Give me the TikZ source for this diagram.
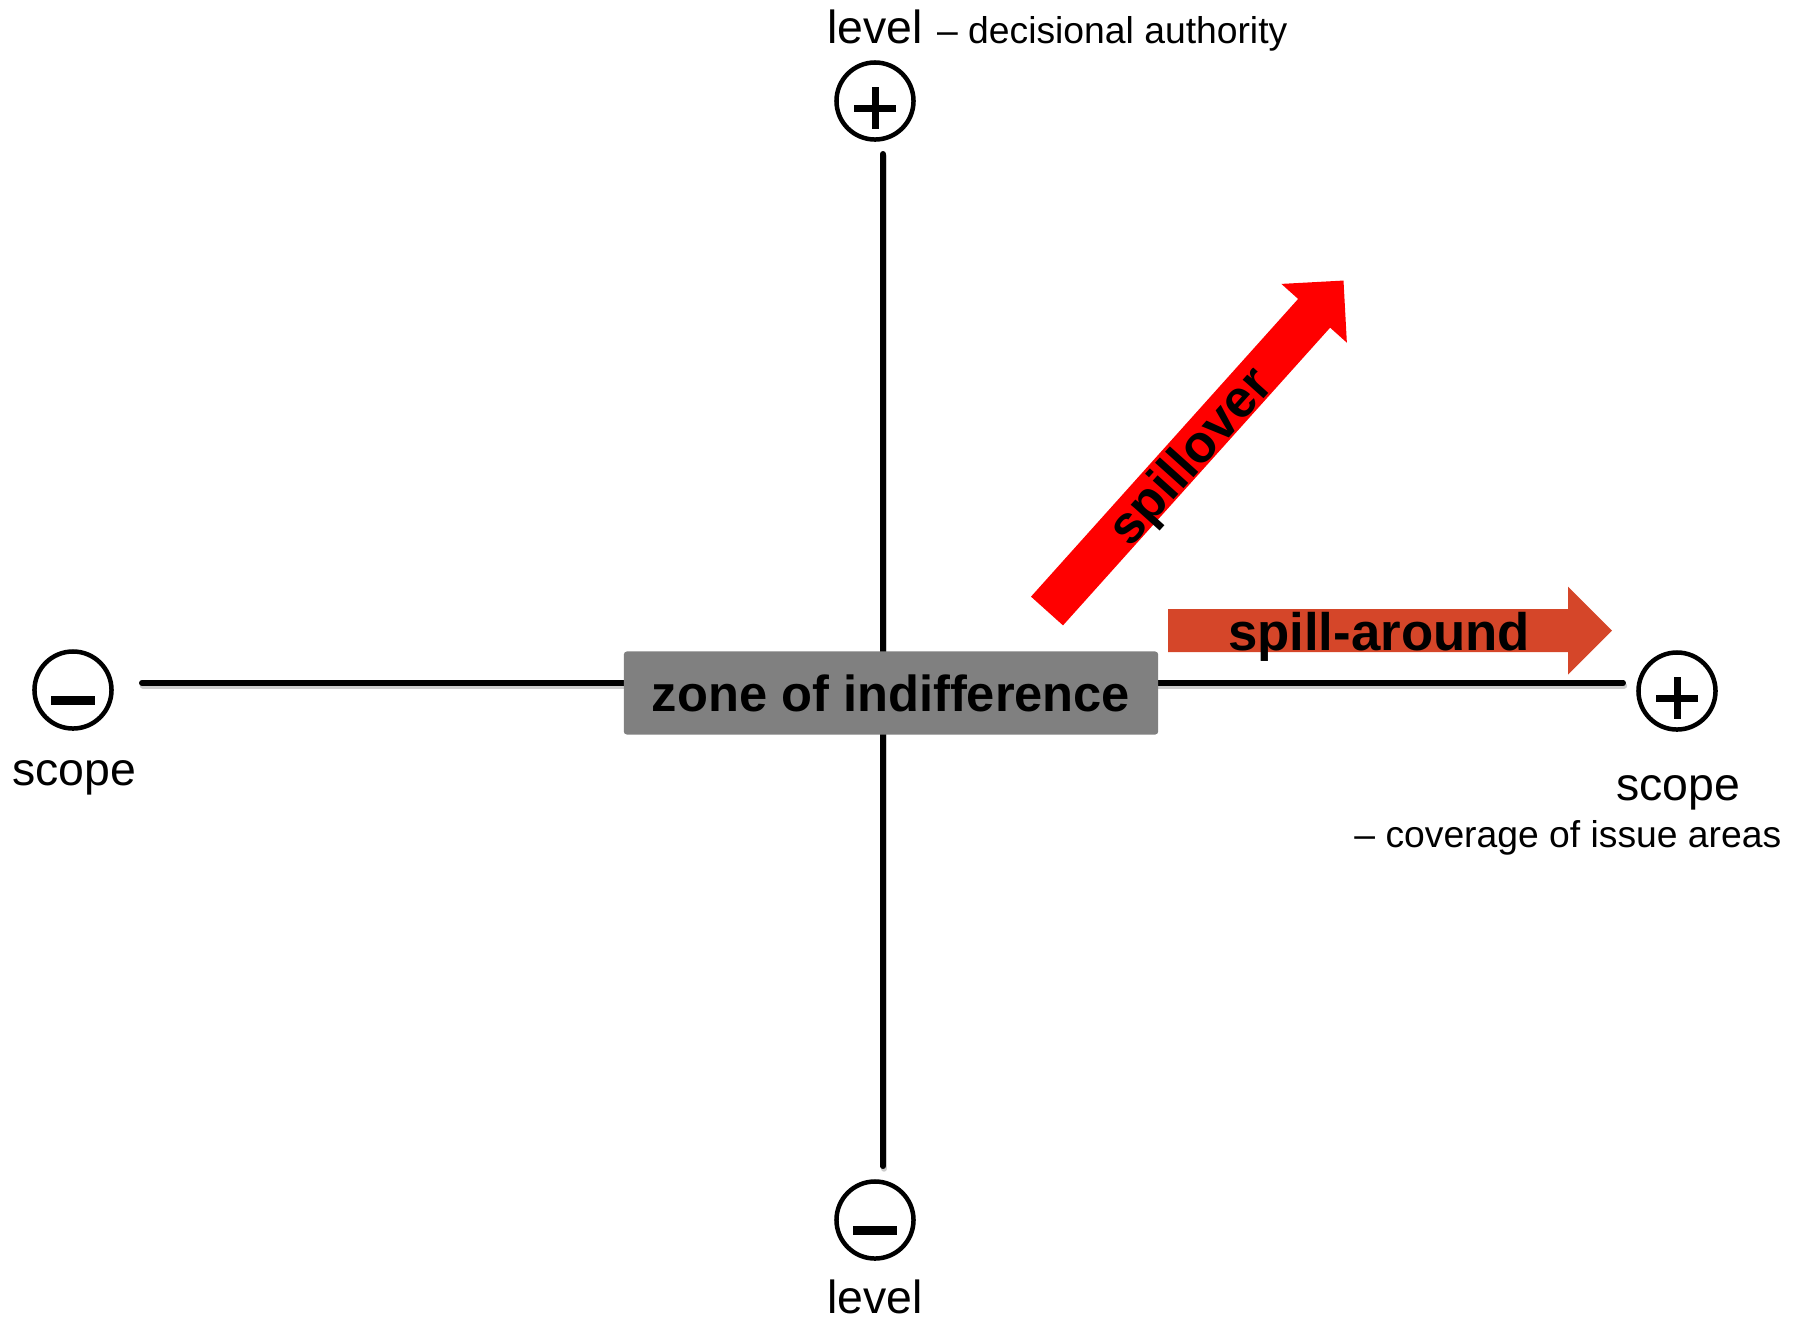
\documentclass[tikz,border=0pt]{standalone}
\usepackage{fontspec}
\setmainfont{Liberation Sans}
\usetikzlibrary{positioning}

\definecolor{spillred}{RGB}{255,0,0}
\definecolor{aroundred}{RGB}{213,70,41}
\definecolor{zonegray}{RGB}{128,128,128}

\tikzset{
  axis/.style={line width=0.055cm, line cap=round},
  axshadow/.style={line width=0.06cm, line cap=round, black!20,
    transform canvas={xshift=0.01cm, yshift=-0.025cm}},
  endmark/.style={circle, draw, line width=0.045cm, minimum size=0.77cm, inner sep=0pt},
  sgn/.style={line width=0.07cm},
  lbl/.style={inner sep=0pt, font=\fontsize{13.2}{15}\selectfont},
  note/.style={inner sep=0pt, font=\fontsize{10.6}{13}\selectfont},
  boldtxt/.style={inner sep=0pt, font=\fontsize{15}{18}\selectfont\bfseries},
  zonebox/.style={fill=zonegray, rounded corners=0.03cm, minimum width=5.34cm,
    minimum height=0.83cm, inner sep=0pt, font=\fontsize{14.4}{17}\selectfont\bfseries},
}

\begin{document}
\begin{tikzpicture}[x=0.01cm, y=-0.01cm]
    \useasboundingbox (0,0) rectangle (1802,1320);

    % end marks of the two axes
    \node[endmark] (levplus) at (875,101) {};
    \node[endmark] (levminus) at (875,1220) {};
    \node[endmark] (scpminus) at (73,690) {};
    \node[endmark] (scpplus) at (1677,691) {};

    \draw[sgn] (levplus) ++(-21,7) -- ++(42,0) ++(-21,-21) -- ++(0,42);
    \draw[sgn] (scpplus) ++(-21,7) -- ++(42,0) ++(-21,-21) -- ++(0,42);
    \draw[line width=0.09cm] (levminus) ++(-22,10) -- ++(44,0);
    \draw[line width=0.09cm] (scpminus) ++(-22,10) -- ++(44,0);

    % axes
    \draw[axshadow, shorten <=0.28cm, shorten >=0.13cm]
      ([yshift=0.07cm]scpminus.east) -- ([yshift=0.08cm]scpplus.west);
    \draw[axshadow, shorten <=0.12cm, shorten >=0.13cm]
      ([xshift=0.08cm]levplus.south) -- ([xshift=0.08cm]levminus.north);
    \draw[axis, shorten <=0.28cm, shorten >=0.13cm]
      ([yshift=0.07cm]scpminus.east) -- ([yshift=0.08cm]scpplus.west);
    \draw[axis, shorten <=0.12cm, shorten >=0.13cm]
      ([xshift=0.08cm]levplus.south) -- ([xshift=0.08cm]levminus.north);

    \node[zonebox] (zone) at (891,693) {zone of indifference};

    % spillover
    \begin{scope}[shift={(1047,611)}, rotate=48.1]
      \fill[spillred] (0,-21.5) -- (400,-21.5) -- (400,-44) -- (444,0)
        -- (400,44) -- (400,21.5) -- (0,21.5) -- cycle;
      \node[boldtxt, rotate=48.1, anchor=base] (spillover) at (211,20) {spillover};
    \end{scope}

    % spill-around
    \begin{scope}[shift={(1168,630.5)}]
      \fill[aroundred] (0,-21.5) -- (400,-21.5) -- (400,-44) -- (444,0)
        -- (400,44) -- (400,21.5) -- (0,21.5) -- cycle;
      \node[boldtxt, anchor=base] (spillaround) at (211,20) {spill-around};
    \end{scope}

    \node[lbl, anchor=base] (levtop) at (875,43) {level};
    \node[note, base right=0.13cm of levtop] (levnote) {– decisional authority};
    \node[lbl, anchor=base] (levbot) at (875,1313) {level};
    \node[lbl, anchor=base] (scpleft) at (74,785) {scope};
    \node[lbl, anchor=base] (scpright) at (1678,800) {scope};
    \node[note, anchor=base east] (scpnote) at (1782,847) {– coverage of issue areas};
\end{tikzpicture}
\end{document}
